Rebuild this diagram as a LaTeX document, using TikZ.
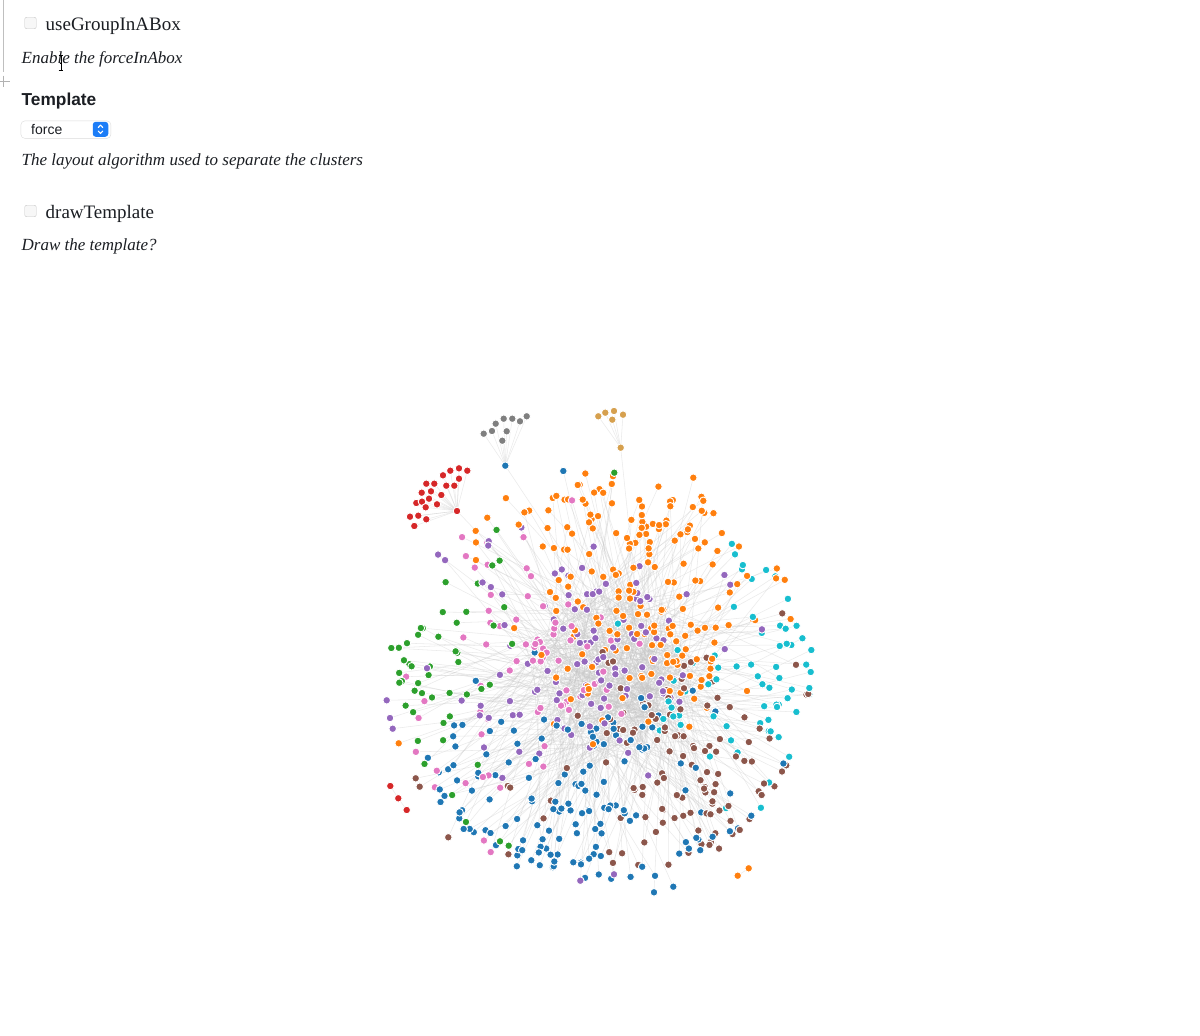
\documentclass[tikz,border=0pt]{standalone}
\usepackage{fontspec}
\setmainfont{Liberation Serif}
\newfontfamily\uisans{Liberation Sans}
\definecolor{cBlue}{HTML}{1F77B4}
\definecolor{cOrange}{HTML}{FF7F0E}
\definecolor{cGreen}{HTML}{2CA02C}
\definecolor{cRed}{HTML}{D62728}
\definecolor{cPurple}{HTML}{9467BD}
\definecolor{cBrown}{HTML}{8C564B}
\definecolor{cPink}{HTML}{E377C2}
\definecolor{cGray}{HTML}{7F7F7F}
\definecolor{cCyan}{HTML}{17BECF}
\definecolor{cTan}{HTML}{D6A04E}
\definecolor{selBlue}{HTML}{1C7DF7}
\definecolor{txt}{HTML}{1B1E23}
\newcommand\pickcol[2]{%
  \pgfmathsetmacro\dA{veclen(#1-630,#2-525)+170*rnd}%
  \pgfmathsetmacro\dH{veclen(#1-645,#2-612)+170*rnd+5}%
  \pgfmathsetmacro\dB{veclen(#1-585,#2-645)+170*rnd+5}%
  \pgfmathsetmacro\dC{veclen(#1-540,#2-650)+170*rnd+22}%
  \pgfmathsetmacro\dD{veclen(#1-775,#2-685)+170*rnd}%
  \pgfmathsetmacro\dE{veclen(#1-690,#2-775)+170*rnd}%
  \pgfmathsetmacro\dF{veclen(#1-590,#2-805)+170*rnd-5}%
  \pgfmathsetmacro\dG{veclen(#1-430,#2-665)+170*rnd+30}%
  \pgfmathsetmacro\dM{min(\dA,\dH,\dB,\dC,\dD,\dE,\dF,\dG)}%
  \pgfmathtruncatemacro\ck{(\dA==\dM||\dH==\dM)?1:(\dB==\dM?2:(\dC==\dM?3:(\dD==\dM?4:(\dE==\dM?5:(\dF==\dM?6:7)))))}%
  \ifcase\ck\or\def\dotcol{cOrange}\or\def\dotcol{cPurple}\or\def\dotcol{cPink}\or\def\dotcol{cCyan}\or\def\dotcol{cBrown}\or\def\dotcol{cBlue}\or\def\dotcol{cGreen}\fi}
\begin{document}
\begin{tikzpicture}[x=1pt,y=-1pt,
  dot/.style={circle,inner sep=0pt,minimum size=7.6pt,draw=white,line width=0.9pt},
  link/.style={draw=black!22,line width=0.55pt,opacity=0.36},
  lab/.style={anchor=base west,inner sep=0pt,text=txt,font=\fontsize{19}{22}\selectfont},
  desc/.style={anchor=base west,inner sep=0pt,text=txt,font=\fontsize{17}{20}\selectfont\itshape},
  chk/.style={draw=black!22,fill=black!3,rounded corners=2pt,minimum size=11.5pt,inner sep=0pt}]
\useasboundingbox[fill=white] (0,0) rectangle (1200,1036);

% ---------- left UI panel ----------
\draw[black!25,line width=0.8pt] (3.5,0) -- (3.5,72);
\draw[black!30,line width=0.8pt] (0,81) -- (9.5,81) (3.5,75.5) -- (3.5,87);
\node[chk] (cb1) at (30.5,23) {};
\node[lab] (t1) at (45.5,30.5) {useGroupInABox};
\node[desc] (d1) at (21.5,63.3) {Enable the forceInAbox};
\draw[black,line width=0.7pt] (61,55) -- (61,70) (58.7,55) -- (63.3,55) (58.7,70) -- (63.3,70) (59.6,63) -- (62.4,63);
\node[anchor=base west,inner sep=0pt,text=txt,font=\uisans\bfseries\fontsize{17.3}{20}\selectfont] (tp) at (21.5,105) {Template};
\node[draw=black!14,fill=white,rounded corners=4pt,minimum width=90pt,minimum height=17.5pt,inner sep=0pt,anchor=north west] (sel) at (20.7,120.7) {};
\node[anchor=base west,inner sep=0pt,text=txt,font=\uisans\fontsize{14}{16}\selectfont] (selt) at (31,134) {force};
\node[fill=selBlue,rounded corners=3pt,minimum width=15.5pt,minimum height=15pt,inner sep=0pt] (btn) at (100.5,129.3) {};
\draw[white,line width=1.1pt,line cap=round,line join=round] (98.2,127.6) -- (100.5,125.1) -- (102.8,127.6) (98.2,131) -- (100.5,133.5) -- (102.8,131);
\node[desc] (d2) at (21.5,165) {The layout algorithm used to separate the clusters};
\node[chk] (cb2) at (30.5,211) {};
\node[lab] (t2) at (45.5,218.3) {drawTemplate};
\node[desc] (d3) at (21.5,250.7) {Draw the template?};

% ---------- graph: pass 1, positions ----------
\pgfmathsetseed{20231}
\foreach \i in {1,...,240}{
  \pgfmathsetmacro\myang{360*rnd}
  \pgfmathsetmacro\myrad{84*sqrt(rnd)}
  \pgfmathsetmacro\px{610+\myrad*cos(\myang)}
  \pgfmathsetmacro\py{672-\myrad*sin(\myang)}
  \pickcol{\px}{\py}
  \coordinate (p\i) at (\px,\py);
  \expandafter\xdef\csname gcol\i\endcsname{\dotcol}
  \pgfmathtruncatemacro\tg{\i>1 ? 1+floor(rnd*(\i-1)) : 2}
  \expandafter\xdef\csname gtg\i\endcsname{\tg}
}
\foreach \i in {241,...,770}{
  \pgfmathsetmacro\myang{360*rnd}
  \pgfmathsetmacro\myrad{84*sqrt(1+5.1*rnd)}
  \pgfmathsetmacro\px{603+\myrad*cos(\myang)}
  \pgfmathsetmacro\py{678-\myrad*sin(\myang)}
  \pickcol{\px}{\py}
  \coordinate (p\i) at (\px,\py);
  \expandafter\xdef\csname gcol\i\endcsname{\dotcol}
  \pgfmathtruncatemacro\tg{1+floor(rnd*239)}
  \expandafter\xdef\csname gtg\i\endcsname{\tg}
}
% stray nodes, explicit
\foreach \x/\y/\c [count=\j from 771] in {386.7/700.3/cPurple,390/718/cPurple,392.7/728.7/cPurple,398.7/743.3/cOrange,391.3/648/cGreen,399.3/682.7/cGreen,415.7/778.3/cBrown,419.7/786.7/cBrown,448.3/837.3/cBrown,500/841.3/cGreen,508.7/845.7/cGreen,573.3/862.3/cBlue,581/864.3/cBlue,580.3/880.7/cPurple,614/874.3/cPurple,654/892.3/cBlue,673.3/886.7/cBlue,811.3/650/cCyan,810.7/672/cCyan,809.3/688/cCyan,751.3/815.7/cBlue,563.3/471/cBlue,614.3/472.7/cGreen,693.3/477.7/cOrange}{
  \coordinate (p\j) at (\x,\y);
  \expandafter\xdef\csname gcol\j\endcsname{\c}
  \pgfmathtruncatemacro\tg{1+floor(rnd*239)}
  \expandafter\xdef\csname gtg\j\endcsname{\tg}
}
% satellite clusters
\coordinate (ra) at (390.3,786);
\coordinate (rb) at (398.3,798.3);
\coordinate (rc) at (406.7,810);
\coordinate (oa) at (737.7,875.7);
\coordinate (ob) at (748.7,868.3);
\coordinate (rh) at (457,511);
\foreach \x/\y [count=\j] in {450.3/470.7,459/468.3,467.3/470.7,443/475.3,459/478.7,426.3/483.7,434.3/483.7,446.3/485.7,454.3/485.7,421.7/492.7,431/491.3,441.3/495,416.3/503,422/501.7,429/498.7,437/504.3,425.7/507.3,410/516.7,418.3/515.7,426.3/519.3,414.3/526}{\coordinate (r\j) at (\x,\y);}
\coordinate (gb) at (505.3,465.7);
\foreach \x/\y [count=\j] in {483.7/433.7,492/431,495.7/423.7,503.7/418.7,512.3/418.7,520/421.3,526.7/416.3,506.7/431.3,502.3/440.7}{\coordinate (g\j) at (\x,\y);}
\coordinate (th) at (620.7,447.7);
\foreach \x/\y [count=\j] in {598.3/416.3,605.3/412.7,614/411,623/414.7,612.3/419.7}{\coordinate (tn\j) at (\x,\y);}

% ---------- pass 2, connectors ----------
\foreach \i in {1,...,794}{
  \edef\tg{\csname gtg\i\endcsname}
  \draw[link] (p\i) -- (p\tg);
}
\draw[link] (ra) -- (rb) -- (rc);
\draw[link] (oa) -- (ob);
\foreach \j in {1,...,21}{\draw[link] (r\j) -- (rh);}
\draw[link] (rh) -- (p12);
\foreach \j in {1,...,9}{\draw[link] (g\j) -- (gb);}
\draw[link] (gb) -- (p40);
\foreach \j in {1,...,5}{\draw[link] (tn\j) -- (th);}
\draw[link] (th) -- (p77);

% ---------- pass 3, nodes ----------
\foreach \i in {1,...,794}{
  \edef\cc{\csname gcol\i\endcsname}
  \node[dot,fill=\cc] (n\i) at (p\i) {};
}
\foreach \c in {ra,rb,rc,rh}{\node[dot,fill=cRed] (d\c) at (\c) {};}
\foreach \c in {oa,ob}{\node[dot,fill=cOrange] (d\c) at (\c) {};}
\foreach \j in {1,...,21}{\node[dot,fill=cRed] (dr\j) at (r\j) {};}
\node[dot,fill=cBlue] (dgb) at (gb) {};
\foreach \j in {1,...,9}{\node[dot,fill=cGray] (dg\j) at (g\j) {};}
\node[dot,fill=cTan] (dth) at (th) {};
\foreach \j in {1,...,5}{\node[dot,fill=cTan] (dtn\j) at (tn\j) {};}
\end{tikzpicture}
\end{document}
